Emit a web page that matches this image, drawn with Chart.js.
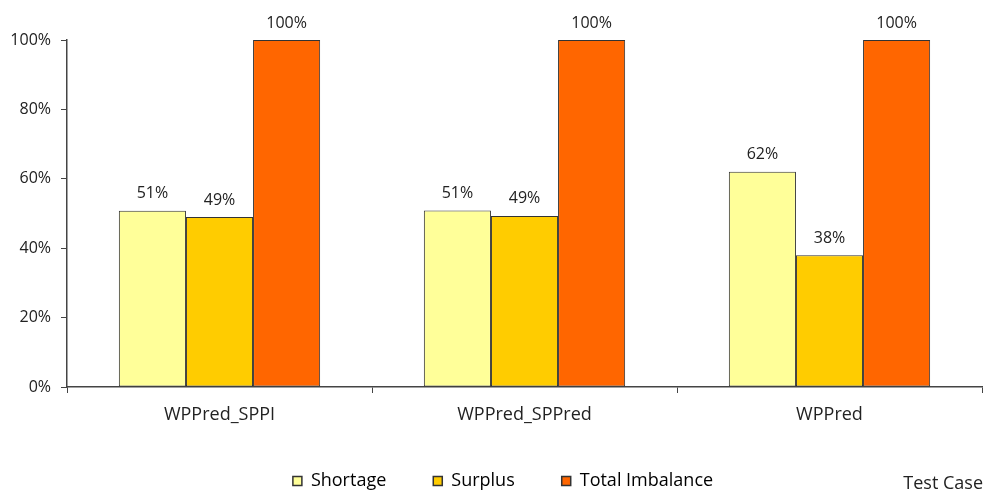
<!DOCTYPE html>
<html>
<head>
<meta charset="utf-8">
<script src="https://cdn.jsdelivr.net/npm/chart.js@4"></script>
<style>
  html, body { margin: 0; padding: 0; background: #fff; }
  #wrap { width: 985px; height: 496px; }
</style>
</head>
<body>
<div id="wrap"><canvas id="chart" width="985" height="496"></canvas></div>
<script>
const categories = ['WPPred_SPPI', 'WPPred_SPPred', 'WPPred'];
const shortage = [50.8, 50.9, 62.0];
const surplus = [49.0, 49.3, 38.0];
const totalImbalance = [100, 100, 100];
const yTicks = [0, 20, 40, 60, 80, 100];

const FONT = '"Open Sans", "DejaVu Sans", sans-serif';
const TEXT = '#222';
const AXIS = '#444';

// labels above bars
const barLabels = {
    id: 'barLabels',
    afterDatasetsDraw(chart) {
        const ctx = chart.ctx;
        ctx.save();
        ctx.font = '16px ' + FONT;
        ctx.fillStyle = TEXT;
        ctx.textAlign = 'center';
        ctx.textBaseline = 'bottom';
        chart.data.datasets.forEach((ds, i) => {
            chart.getDatasetMeta(i).data.forEach((bar, j) => {
                ctx.fillText(Math.round(ds.data[j]) + '%', bar.x, bar.y - 9);
            });
        });
        ctx.restore();
    }
};

// axis caption at bottom right, legend nudged a bit right
const caption = {
    id: 'caption',
    afterLayout(chart) {
        chart.legend.left += 12;
        chart.legend.right += 12;
    },
    afterDraw(chart) {
        const ctx = chart.ctx;
        ctx.save();
        ctx.font = '18px ' + FONT;
        ctx.fillStyle = TEXT;
        ctx.textAlign = 'right';
        ctx.textBaseline = 'middle';
        ctx.fillText('Test Case', 983, 484);
        ctx.restore();
    }
};

new Chart(document.getElementById('chart'), {
    type: 'bar',
    data: {
        labels: categories,
        datasets: [
            { label: 'Shortage', data: shortage, backgroundColor: '#FFFF99' },
            { label: 'Surplus', data: surplus, backgroundColor: '#FFCC00' },
            { label: 'Total Imbalance', data: totalImbalance, backgroundColor: '#FF6600' }
        ]
    },
    options: {
        responsive: false,
        animation: false,
        layout: { padding: { top: 40, right: 3, left: 0, bottom: -4 } },
        datasets: {
            bar: {
                categoryPercentage: 0.66,
                barPercentage: 1.0,
                borderColor: '#333',
                borderWidth: 1,
                borderSkipped: false
            }
        },
        scales: {
            x: {
                afterFit: s => { s.height = 38; },
                grid: { drawOnChartArea: false, drawTicks: true, tickLength: 6, color: AXIS, offset: true },
                border: { display: true, color: AXIS, width: 1.5 },
                ticks: { color: TEXT, padding: 11, font: { family: FONT, size: 18 } }
            },
            y: {
                min: 0,
                max: 100,
                afterFit: s => { s.width = 67; },
                afterBuildTicks: s => { s.ticks = yTicks.map(v => ({ value: v })); },
                grid: { drawOnChartArea: false, drawTicks: true, tickLength: 6, color: AXIS },
                border: { display: true, color: AXIS, width: 1.5 },
                ticks: {
                    color: TEXT,
                    padding: 10,
                    font: { family: FONT, size: 16 },
                    callback: v => v + '%'
                }
            }
        },
        plugins: {
            legend: {
                position: 'bottom',
                labels: {
                    boxWidth: 9,
                    boxHeight: 9,
                    padding: 47,
                    color: TEXT,
                    font: { family: FONT, size: 18 },
                    generateLabels: chart => chart.data.datasets.map((ds, i) => ({
                        text: ds.label,
                        fillStyle: ds.backgroundColor,
                        strokeStyle: '#333',
                        lineWidth: 1.5,
                        datasetIndex: i
                    }))
                }
            },
            tooltip: { enabled: false }
        }
    },
    plugins: [barLabels, caption]
});
</script>
</body>
</html>
